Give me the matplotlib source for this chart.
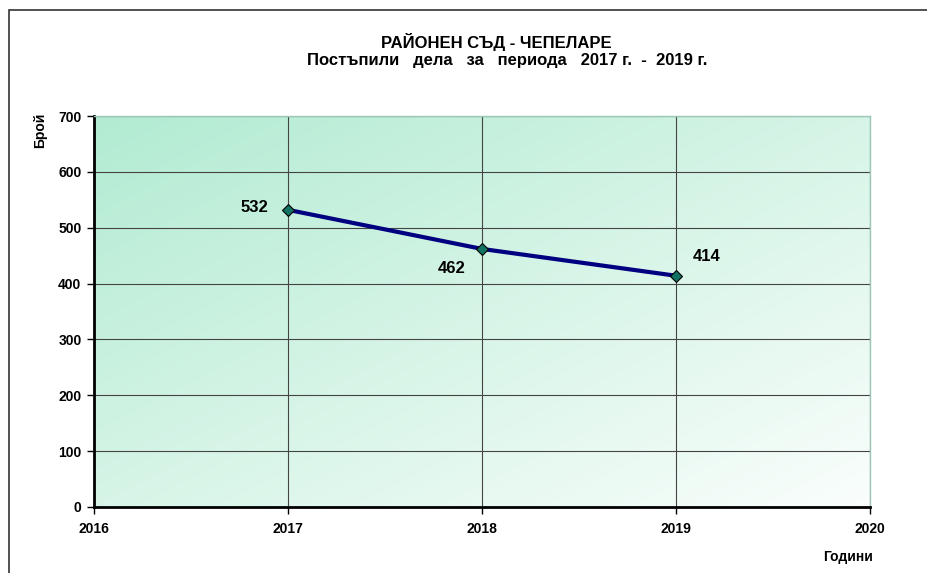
import matplotlib
matplotlib.use('Agg')
import matplotlib.pyplot as plt
import numpy as np
from matplotlib.patches import Rectangle

# Данни
godini = [2017, 2018, 2019]
postapili = [532, 462, 414]
y_ticks = [0, 100, 200, 300, 400, 500, 600, 700]
x_ticks = [2016, 2017, 2018, 2019, 2020]

plt.rcParams['font.family'] = ['Liberation Sans', 'DejaVu Sans']

fig = plt.figure(figsize=(9.28, 5.73), dpi=100)
ax = fig.add_axes([94/928, 1 - 507/573, (870 - 94)/928, (507 - 116)/573])

# рамка около диаграмата (долу и вдясно излиза извън картинката)
fig.patches.append(Rectangle((9/928, -0.1), 1.2, 1.1 - 10/573, transform=fig.transFigure,
                             fill=False, edgecolor='#333333', lw=1.2))

# градиентен фон (зелено -> бяло)
n = 200
xx, yy = np.meshgrid(np.linspace(0, 1, n), np.linspace(1, 0, n))
t = np.clip((xx + (1 - yy)) / 2, 0, 1)
c0 = np.array([178, 235, 210]) / 255
c1 = np.array([250, 254, 252]) / 255
img = c0[None, None, :] * (1 - t[..., None]) + c1[None, None, :] * t[..., None]
ax.imshow(img, extent=[0, 1, 0, 1], transform=ax.transAxes, aspect='auto', zorder=0)

ax.set_xlim(2016, 2020)
ax.set_ylim(0, 700)
ax.set_xticks(x_ticks)
ax.set_yticks(y_ticks)
ax.grid(True, color='#444444', lw=0.8, zorder=1)
ax.set_axisbelow(True)

ax.plot(godini, postapili, color='#000080', lw=3, marker='D', markersize=6.5,
        markerfacecolor='#137363', markeredgecolor='black', markeredgewidth=0.8, zorder=3)

ax.annotate(str(postapili[0]), (godini[0], postapili[0]), xytext=(-14, 2), textcoords='offset points',
            ha='right', va='center', fontsize=12, fontweight='bold')
ax.annotate(str(postapili[1]), (godini[1], postapili[1]), xytext=(-12, -14), textcoords='offset points',
            ha='right', va='center', fontsize=12, fontweight='bold')
ax.annotate(str(postapili[2]), (godini[2], postapili[2]), xytext=(12, 14), textcoords='offset points',
            ha='left', va='center', fontsize=12, fontweight='bold')

for s in ['top', 'right']:
    ax.spines[s].set_color('#9cc8b8')
    ax.spines[s].set_linewidth(1)
for s in ['left', 'bottom']:
    ax.spines[s].set_color('black')
    ax.spines[s].set_linewidth(2)

ax.tick_params(axis='both', length=5, width=1, direction='out', labelsize=10, pad=4)
for lbl in ax.get_xticklabels() + ax.get_yticklabels():
    lbl.set_fontweight('bold')
ax.tick_params(axis='x', pad=6)

fig.text(496/928, 1 - 42/573, 'РАЙОНЕН СЪД - ЧЕПЕЛАРЕ', ha='center', va='center',
         fontsize=12, fontweight='bold')
fig.text(507/928, 1 - 60/573, 'Постъпили   дела   за   периода   2017 г.  -  2019 г.', ha='center', va='center',
         fontsize=12, fontweight='bold')
fig.text(40/928, 1 - 130/573, 'Брой', rotation=90, ha='center', va='center',
         fontsize=10, fontweight='bold')
fig.text(848/928, 1 - 557/573, 'Години', ha='center', va='center',
         fontsize=10, fontweight='bold')

plt.savefig('out.png', dpi=100)
plt.close()
